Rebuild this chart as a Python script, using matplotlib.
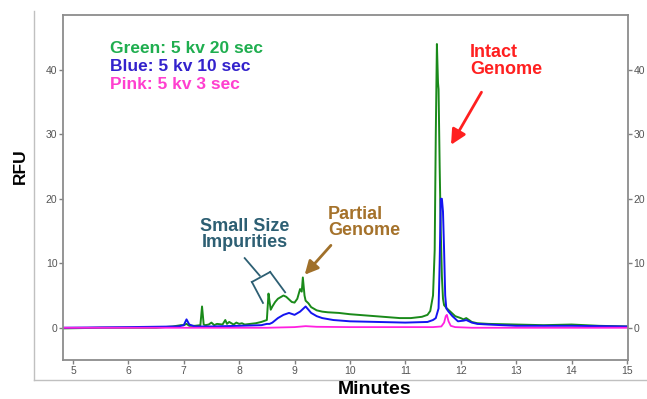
import matplotlib
matplotlib.use("Agg")
from matplotlib import pyplot as plt
from matplotlib.lines import Line2D

plt.rcParams['font.family'] = ['Liberation Sans', 'DejaVu Sans']

# electropherogram traces (minutes, RFU)
green_t = [4.82, 5.5, 6.0, 6.5, 6.8, 6.95, 7.0, 7.05, 7.1, 7.2, 7.3, 7.33, 7.36, 7.39,
           7.45, 7.5, 7.55, 7.6, 7.7, 7.75, 7.78, 7.82, 7.9, 7.95, 8.0, 8.05, 8.1, 8.2,
           8.3, 8.4, 8.5, 8.53, 8.55, 8.57, 8.6, 8.65, 8.7, 8.8, 8.85, 8.9, 8.95, 9.0,
           9.05, 9.1, 9.13, 9.15, 9.18, 9.2, 9.25, 9.3, 9.4, 9.5, 9.6, 9.8, 10.0, 10.3,
           10.6, 10.9, 11.1, 11.3, 11.4, 11.45, 11.5, 11.53, 11.55, 11.57, 11.59, 11.6,
           11.62, 11.64, 11.66, 11.68, 11.7, 11.75, 11.8, 11.9, 12.0, 12.05, 12.1, 12.15,
           12.2, 12.3, 12.5, 13.0, 13.5, 14.0, 14.5, 15.0]
green_y = [-0.1, 0.0, 0.0, 0.0, 0.2, 0.4, 0.4, 0.6, 0.3, 0.3, 0.4, 3.3, 0.5, 0.4,
           0.5, 0.8, 0.4, 0.6, 0.5, 1.2, 0.6, 0.9, 0.5, 0.8, 0.6, 0.7, 0.5, 0.6,
           0.7, 0.9, 1.2, 5.3, 4.0, 2.8, 3.3, 4.0, 4.5, 5.0, 4.8, 4.4, 4.0, 3.9,
           4.5, 6.0, 5.6, 7.8, 5.0, 4.2, 3.8, 3.2, 2.7, 2.5, 2.4, 2.3, 2.1, 1.9,
           1.7, 1.5, 1.5, 1.7, 2.0, 2.6, 5.0, 12.0, 30.0, 44.0, 38.0, 37.0,
           25.0, 15.0, 8.0, 4.5, 3.5, 3.0, 2.6, 1.8, 1.5, 1.3, 1.5, 1.2,
           0.9, 0.7, 0.6, 0.5, 0.4, 0.5, 0.3, 0.2]

blue_t = [4.82, 6.0, 6.9, 7.0, 7.05, 7.1, 7.2, 7.5, 8.0, 8.4, 8.5, 8.55, 8.6, 8.7, 8.8,
          8.9, 9.0, 9.1, 9.2, 9.25, 9.3, 9.4, 9.5, 9.7, 10.0, 10.5, 11.0, 11.4, 11.5,
          11.55, 11.6, 11.62, 11.64, 11.66, 11.68, 11.7, 11.72, 11.74, 11.78, 11.85,
          11.95, 12.05, 12.1, 12.2, 12.3, 12.5, 13.0, 14.0, 15.0]
blue_y = [0.0, 0.1, 0.2, 0.4, 1.3, 0.5, 0.2, 0.2, 0.3, 0.4, 0.6, 0.6, 0.8, 1.5, 2.0,
          2.3, 2.0, 2.5, 3.3, 2.8, 2.3, 1.8, 1.5, 1.2, 1.0, 0.9, 0.8, 0.9, 1.2,
          1.5, 3.0, 10.0, 20.0, 20.0, 18.0, 12.0, 5.0, 3.0, 2.5, 1.8,
          1.0, 1.1, 1.2, 0.8, 0.6, 0.5, 0.3, 0.3, 0.2]

pink_t = [4.82, 8.5, 9.0, 9.2, 9.4, 10.0, 11.0, 11.5, 11.65, 11.7, 11.73, 11.75, 11.78,
          11.82, 11.9, 12.2, 13.0, 15.0]
pink_y = [0.0, 0.0, 0.1, 0.25, 0.15, 0.1, 0.1, 0.1, 0.2, 0.8, 1.8, 2.0, 1.0,
          0.3, 0.1, 0.0, 0.0, 0.0]

xticks = [5, 6, 7, 8, 9, 10, 11, 12, 13, 14, 15]
yticks = [0, 10, 20, 30, 40]

fig = plt.figure(figsize=(6.47, 3.99), dpi=100)
ax = fig.add_axes([63/647, 1 - 360/399, (628-63)/647, (360-15)/399])

ax.plot(green_t, green_y, color="#1a8a1a", lw=1.4)
ax.plot(blue_t, blue_y, color="#1414f0", lw=1.4)
ax.plot(pink_t, pink_y, color="#ff20e0", lw=1.3)

ax.set_xlim(4.82, 15.02)
ax.set_ylim(-5, 48.5)
ax.set_xticks(xticks)
ax.set_yticks(yticks)
ax.tick_params(axis='both', colors="#808080", labelcolor="#555555", labelsize=7.5,
               length=3, width=1, direction='out', pad=1)
ax.tick_params(axis='y', right=True, labelright=True)
for s in ax.spines.values():
    s.set_color("#8c8c8c")
    s.set_linewidth(1.3)

fig.text(20/647, 1 - 166/399, "RFU", rotation=90, fontsize=12.5, fontweight='bold',
         ha='center', va='center')
fig.text(375/647, 1 - 389/399, "Minutes", fontsize=14, fontweight='bold',
         ha='center', va='center')

# outer frame (left and bottom)
fig.add_artist(Line2D([34/647, 34/647], [1 - 11/399, 1 - 380/399], color="#c0c0c0", lw=1))
fig.add_artist(Line2D([34/647, 1.0], [1 - 380/399, 1 - 380/399], color="#c0c0c0", lw=1))

# legend text
ax.text(0.083, 0.889, "Green: 5 kv 20 sec", transform=ax.transAxes, color="#1fae4f",
        fontsize=12.5, fontweight='bold', va='baseline')
ax.text(0.083, 0.837, "Blue: 5 kv 10 sec", transform=ax.transAxes, color="#3322cc",
        fontsize=12.5, fontweight='bold', va='baseline')
ax.text(0.083, 0.785, "Pink: 5 kv 3 sec", transform=ax.transAxes, color="#ff3fcf",
        fontsize=12.5, fontweight='bold', va='baseline')

# annotations
ax.text(12.17, 39.4, "Intact\nGenome", color="#ff2020", fontsize=13, fontweight='bold',
        ha='left', va='baseline', linespacing=0.95)
ax.annotate("", xy=(11.8, 28.0), xytext=(12.4, 36.9),
            arrowprops=dict(arrowstyle="-|>,head_width=0.45,head_length=0.9",
                            color="#ff2020", lw=2))

ax.text(8.1, 12.5, "Small Size\nImpurities", color="#2d5f73", fontsize=13, fontweight='bold',
        ha='center', va='baseline', linespacing=0.92)
ax.text(9.6, 14.4, "Partial\nGenome", color="#a5722b", fontsize=13, fontweight='bold',
        ha='left', va='baseline', linespacing=0.92)
ax.annotate("", xy=(9.15, 7.9), xytext=(9.69, 13.1),
            arrowprops=dict(arrowstyle="-|>,head_width=0.4,head_length=0.8",
                            color="#a0702a", lw=2))

# bracket under "Small Size Impurities"
ax.plot([8.1, 8.37], [10.8, 8.1], color="#2d5f73", lw=1.3)
ax.plot([8.23, 8.56], [7.1, 8.65], color="#2d5f73", lw=1.3)
ax.plot([8.23, 8.43], [7.1, 3.85], color="#2d5f73", lw=1.3)
ax.plot([8.56, 8.83], [8.65, 5.5], color="#2d5f73", lw=1.3)

fig.savefig("out.png", dpi=100)
